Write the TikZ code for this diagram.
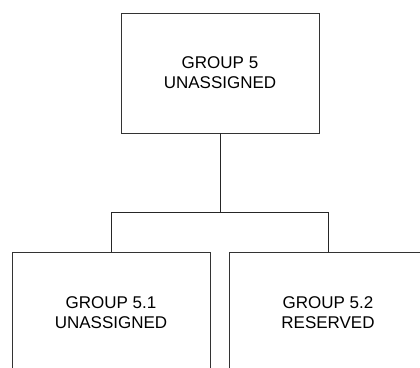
\documentclass[tikz,border=0pt]{standalone}
\usepackage{fontspec}
\setmainfont{Liberation Sans}
\usetikzlibrary{positioning}
\usepackage{xcolor}

\begin{document}
\begin{tikzpicture}[x=1pt,y=1pt,%
		   groupbox/.style={draw=black!80,line width=0.8pt,rectangle,minimum width=198pt,minimum height=120pt,align=center,font=\fontsize{17}{20}\selectfont},
		   tree/.style={draw=black!85,line width=0.8pt}]

	\useasboundingbox (0,0) rectangle (420,367);
	\clip (0,0) rectangle (420,367);

	\node[groupbox] (top) at (220,294) {GROUP 5\\UNASSIGNED};
	\coordinate[below=79pt of top.south] (bus);
	\draw[tree] (top.south) -- (bus);

	\foreach \grp/\desc/\dx [count=\i] in {%
		5.1/UNASSIGNED/-109,%
		5.2/RESERVED/108%
	   } { \node[groupbox,below=119pt of top,xshift=\dx pt] (g-\i) {GROUP \grp\\\desc};
	       \draw[tree] (g-\i.north) |- (bus);% branch up to the bus
	   }
\end{tikzpicture}
\end{document}
